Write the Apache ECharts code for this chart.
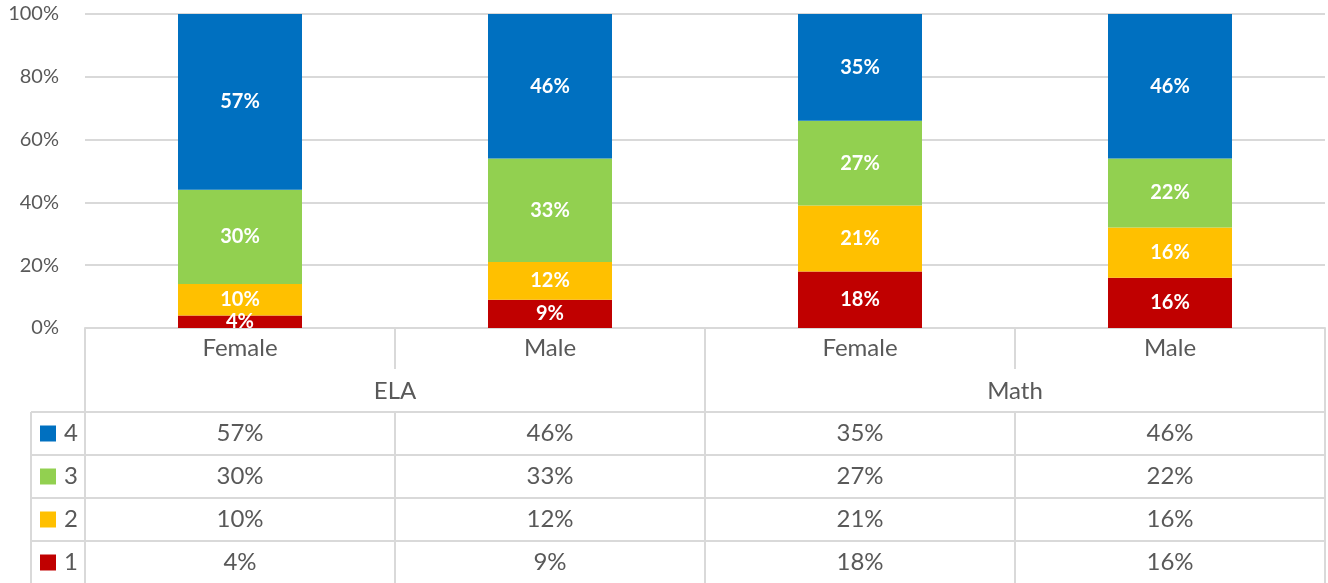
<!DOCTYPE html>
<html>
<head>
<meta charset="utf-8">
<script src="https://cdn.jsdelivr.net/npm/echarts@6/dist/echarts.min.js"></script>
<style>
html, body { margin: 0; padding: 0; background: #fff; }
#chart { width: 1328px; height: 583px; }
</style>
</head>
<body>
<div id="chart"></div>
<script>
var categories = ['Female', 'Male', 'Female', 'Male'];
var groups = ['ELA', 'Math'];
var levelNames = ['1', '2', '3', '4'];
var level1 = [4, 9, 18, 16];
var level2 = [10, 12, 21, 16];
var level3 = [30, 33, 27, 22];
var level4 = [57, 46, 35, 46];
var yTicks = [0, 20, 40, 60, 80, 100];

var levelData = [level1, level2, level3, level4];
var colors = ['#C00000', '#FFC000', '#92D050', '#0070C0'];
var gray = '#d9d9d9';
var textColor = '#595959';
var font = 'Lato, "Open Sans", sans-serif';

// grid / table layout
var gridLeft = 85, gridRight = 3, gridTop = 14, gridBottom = 255;
var W = 1328, H = 583;
var axisY = H - gridBottom;
var plotRight = W - gridRight;
var bandW = (plotRight - gridLeft) / categories.length;
var catRowH = 41;
var tableTop = 412;
var rowH = 43;
var legendLeft = 31;

var myChart = echarts.init(document.getElementById('chart'));

var series = levelData.map(function(vals, i) {
    return {
        name: levelNames[i],
        type: 'bar',
        stack: 'total',
        barWidth: '40%',
        data: vals,
        itemStyle: { color: colors[i] },
        label: {
            show: true,
            position: 'inside',
            color: '#fff',
            fontWeight: 'bold',
            fontSize: 20,
            fontFamily: font,
            formatter: '{c}%'
        }
    };
});

// table drawn with graphic elements
var graphic = [];
function line(x1, y1, x2, y2) {
    graphic.push({
        type: 'line',
        shape: { x1: x1, y1: y1, x2: x2, y2: y2 },
        style: { stroke: gray, lineWidth: 2 },
        silent: true
    });
}
function text(str, x, y, align) {
    graphic.push({
        type: 'text',
        x: x, y: y,
        style: {
            text: str, fill: textColor, fontSize: 24, fontFamily: font,
            align: align || 'center', verticalAlign: 'middle'
        },
        silent: true
    });
}

var tableBottom = tableTop + rowH * levelNames.length;
// vertical lines
line(gridLeft, axisY, gridLeft, tableBottom);
line(plotRight, axisY, plotRight, tableBottom);
var perGroup = categories.length / groups.length;
for (var c = 1; c < categories.length; c++) {
    var x = gridLeft + bandW * c;
    if (c % perGroup === 0) {
        line(x, axisY, x, tableBottom);
    } else {
        line(x, axisY, x, axisY + catRowH);
        line(x, tableTop, x, tableBottom);
    }
}
line(legendLeft, tableTop, legendLeft, tableBottom);
// horizontal lines
for (var r = 0; r <= levelNames.length; r++) {
    var y = tableTop + rowH * r;
    line(legendLeft, y, plotRight, y);
}
// group labels
groups.forEach(function(g, i) {
    text(g, gridLeft + bandW * perGroup * (i + 0.5), axisY + 63);
});
// data rows, top row is the highest level
for (var r = 0; r < levelNames.length; r++) {
    var li = levelNames.length - 1 - r;
    var cy = tableTop + rowH * (r + 0.5);
    graphic.push({
        type: 'rect',
        shape: { x: legendLeft + 9, y: cy - 8, width: 16, height: 16 },
        style: { fill: colors[li] },
        silent: true
    });
    text(levelNames[li], legendLeft + 33, cy, 'left');
    levelData[li].forEach(function(v, c) {
        text(v + '%', gridLeft + bandW * (c + 0.5), cy);
    });
}

var option = {
    animation: false,
    grid: { left: gridLeft, right: gridRight, top: gridTop, bottom: gridBottom },
    xAxis: {
        type: 'category',
        data: categories,
        axisLine: { lineStyle: { color: gray, width: 2 } },
        axisTick: { show: true, length: catRowH, lineStyle: { color: gray, width: 2 } },
        axisLabel: { color: textColor, fontSize: 24, fontFamily: font, margin: 8 }
    },
    yAxis: {
        type: 'value',
        min: yTicks[0],
        max: yTicks[yTicks.length - 1],
        interval: yTicks[1] - yTicks[0],
        axisLine: { show: false },
        axisTick: { show: false },
        axisLabel: { color: textColor, fontSize: 20, fontFamily: font, margin: 26, formatter: '{value}%' },
        splitLine: { lineStyle: { color: gray, width: 2 } }
    },
    series: series,
    graphic: graphic
};
myChart.setOption(option);
</script>
</body>
</html>
